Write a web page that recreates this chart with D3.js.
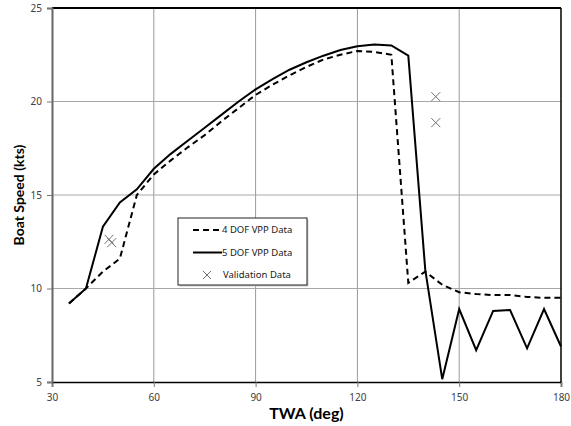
<!DOCTYPE html>
<html>
<head>
<meta charset="utf-8">
<script src="https://cdn.jsdelivr.net/npm/d3@7"></script>
<style>
  body { margin: 0; background: #fff; }
  text { font-family: "Noto Sans", "DejaVu Sans", sans-serif; }
</style>
</head>
<body>
<svg id="chart" width="571" height="426"></svg>
<script>
// TWA (deg) samples
const twa = [35, 40, 45, 50, 55, 60, 65, 70, 75, 80, 85, 90, 95, 100, 105, 110, 115, 120,
  125, 130, 135, 140, 145, 150, 155, 160, 165, 170, 175, 180];
// boat speed (kts)
const dof4 = [9.2, 10.0, 10.9, 11.6, 15.0, 16.1, 16.85, 17.55, 18.2, 18.95, 19.65, 20.35, 20.9, 21.4,
  21.85, 22.25, 22.5, 22.7, 22.65, 22.5, 10.3, 10.9, 10.2, 9.8, 9.7, 9.65, 9.65, 9.55, 9.5, 9.5];
const dof5 = [9.2, 10.0, 13.3, 14.6, 15.3, 16.4, 17.2, 17.9, 18.6, 19.3, 20.0, 20.65, 21.2, 21.7,
  22.1, 22.45, 22.75, 22.95, 23.05, 23.0, 22.45, 11.0, 5.15, 8.9, 6.7, 8.8, 8.85, 6.8, 8.9, 6.9];
const validTwa = [46.8, 47.6, 143.1, 143.1];
const validSpeed = [12.63, 12.45, 20.26, 18.87];
const xTicks = [30, 60, 90, 120, 150, 180];
const yTicks = [5, 10, 15, 20, 25];

const svg = d3.select("#chart");
const margin = { top: 8, right: 10, bottom: 44, left: 52 };
const width = 571 - margin.left - margin.right;
const height = 426 - margin.top - margin.bottom;

const x = d3.scaleLinear().domain([30, 180]).range([0, width]);
const y = d3.scaleLinear().domain([5, 25]).range([height, 0]);

const g = svg.append("g").attr("transform", `translate(${margin.left},${margin.top})`);

// gridlines
g.append("g")
  .selectAll("line")
  .data(xTicks.slice(1, -1))
  .join("line")
  .attr("x1", (d) => x(d)).attr("x2", (d) => x(d))
  .attr("y1", 0).attr("y2", height)
  .attr("stroke", "#9a9a9a");
g.append("g")
  .selectAll("line")
  .data(yTicks.slice(1, -1))
  .join("line")
  .attr("x1", 0).attr("x2", width)
  .attr("y1", (d) => y(d)).attr("y2", (d) => y(d))
  .attr("stroke", "#a8a8a8");

// frame
g.append("line").attr("x1", 0).attr("x2", width).attr("y1", 0).attr("y2", 0)
  .attr("stroke", "#000").attr("stroke-width", 2);
g.append("line").attr("x1", width).attr("x2", width).attr("y1", 0).attr("y2", height)
  .attr("stroke", "#000").attr("stroke-width", 1.5);

// axes
const xAxis = g.append("g")
  .attr("transform", `translate(0,${height})`)
  .call(d3.axisBottom(x).tickValues(xTicks).tickSize(5).tickPadding(7));
xAxis.select(".domain").attr("stroke", "#000").attr("stroke-width", 1.5);
const yAxis = g.append("g")
  .call(d3.axisLeft(y).tickValues(yTicks).tickSize(5).tickPadding(5));
yAxis.select(".domain").attr("stroke", "#666").attr("stroke-width", 2);
g.selectAll(".tick line").attr("stroke", "#777");
g.selectAll(".tick text")
  .attr("fill", "#404040")
  .style("font-size", "10px")
  .style("font-family", "Noto Sans, sans-serif");

// lines
const line = (vals) => d3.line().x((d, i) => x(twa[i])).y((d) => y(d))(vals);
g.append("path").attr("d", line(dof4))
  .attr("fill", "none").attr("stroke", "#000").attr("stroke-width", 2)
  .attr("stroke-dasharray", "6,4");
g.append("path").attr("d", line(dof5))
  .attr("fill", "none").attr("stroke", "#000").attr("stroke-width", 2);

// validation markers
const cross = (sel, s) => {
  sel.append("line").attr("x1", -s).attr("x2", s).attr("y1", -s).attr("y2", s);
  sel.append("line").attr("x1", -s).attr("x2", s).attr("y1", s).attr("y2", -s);
};
g.append("g")
  .selectAll("g")
  .data(validTwa)
  .join("g")
  .attr("transform", (d, i) => `translate(${x(d)},${y(validSpeed[i])})`)
  .attr("stroke", "#707070").attr("stroke-width", 1)
  .each(function () { cross(d3.select(this), 4.5); });

// legend
const lg = svg.append("g").attr("transform", "translate(178,218)");
lg.append("rect").attr("x", 1.5).attr("y", 1.5).attr("width", 129).attr("height", 67).attr("fill", "#ccc");
lg.append("rect").attr("width", 129).attr("height", 67)
  .attr("fill", "#fff").attr("stroke", "#222").attr("stroke-width", 1);
lg.append("line").attr("x1", 15).attr("x2", 44).attr("y1", 12).attr("y2", 12)
  .attr("stroke", "#000").attr("stroke-width", 2).attr("stroke-dasharray", "6,4");
lg.append("line").attr("x1", 15).attr("x2", 44).attr("y1", 34.5).attr("y2", 34.5)
  .attr("stroke", "#000").attr("stroke-width", 2);
lg.append("g").attr("transform", "translate(29,57)")
  .attr("stroke", "#707070").attr("stroke-width", 1)
  .call((s) => cross(s, 4));
const labels = ["4 DOF VPP Data", "5 DOF VPP Data", "Validation Data"];
lg.selectAll("text.lab")
  .data(labels)
  .join("text")
  .attr("class", "lab")
  .attr("x", (d, i) => (i === 2 ? 45 : 44))
  .attr("y", (d, i) => 12 + i * 22.5)
  .attr("dy", "0.35em")
  .style("font-size", "9.5px")
  .attr("fill", "#202020")
  .text((d) => d);

// axis titles
svg.append("text")
  .attr("x", margin.left + width / 2)
  .attr("y", 419)
  .attr("text-anchor", "middle")
  .style("font-family", "Lato, sans-serif")
  .style("font-size", "16px")
  .style("font-weight", "bold")
  .text("TWA (deg)");
svg.append("text")
  .attr("transform", `translate(24,${margin.top + height / 2}) rotate(-90)`)
  .attr("text-anchor", "middle")
  .style("font-family", "Lato, sans-serif")
  .style("font-size", "14px")
  .style("font-weight", "bold")
  .text("Boat Speed (kts)");
</script>
</body>
</html>
